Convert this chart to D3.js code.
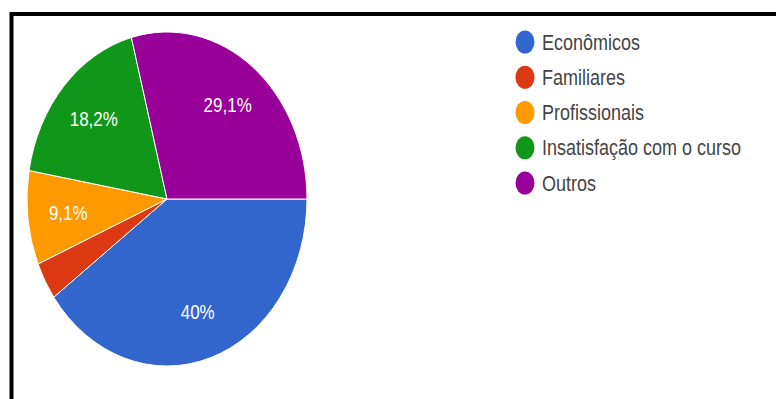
<!doctype html>
<html>
  <head>
    <meta charset="utf-8">
    <title>Motivos</title>
    <script src="https://cdnjs.cloudflare.com/ajax/libs/d3/7.8.5/d3.min.js"></script>
    <style>
      body { margin: 0; background: #fff; }
      text { font-family: "Liberation Sans", Arial, sans-serif; }
    </style>
  </head>
  <body>
    <div id="chart"></div>
    <script>
    // data: counts of answers (55 in total)
    let categories = ["Econômicos", "Familiares", "Profissionais", "Insatisfação com o curso", "Outros"];
    let counts = [22, 2, 5, 10, 16];
    let labels = ["40%", "", "9,1%", "18,2%", "29,1%"];
    let colors = ["#3366cc", "#dc3912", "#ff9900", "#109618", "#990099"];

    let width = 776, height = 399;
    let sy = 167 / 140; // the picture is stretched vertically

    let svg = d3.select("#chart").append("svg")
      .attr("width", width)
      .attr("height", height);

    // frame
    svg.append("rect")
      .attr("x", 11.5).attr("y", 14)
      .attr("width", 900).attr("height", 600)
      .style("fill", "none")
      .style("stroke", "#000")
      .style("stroke-width", 4);

    let r = 140, cx = 167, cy = 199;

    let pie = d3.pie().sort(null)
      .startAngle(Math.PI / 2)
      .endAngle(Math.PI / 2 + 2 * Math.PI);
    let arcs = pie(counts);

    let arc = d3.arc().innerRadius(0).outerRadius(r);
    let labelArc = d3.arc().innerRadius(r * 0.71).outerRadius(r * 0.71);

    let g = svg.append("g")
      .attr("transform", `translate(${cx},${cy}) scale(1,${sy})`);

    g.selectAll("path")
      .data(arcs)
      .join("path")
      .attr("d", arc)
      .style("fill", (d, i) => colors[i])
      .style("stroke", "#fff")
      .style("stroke-width", 1)
      .attr("vector-effect", "non-scaling-stroke");

    svg.selectAll("text.lbl")
      .data(arcs)
      .join("text")
      .attr("class", "lbl")
      .attr("transform", d => {
        let c = labelArc.centroid(d);
        return `translate(${cx + c[0]},${cy + c[1] * sy}) scale(1,${sy})`;
      })
      .attr("text-anchor", "middle")
      .attr("dy", "0.35em")
      .style("font-size", "17px")
      .style("fill", "#fff")
      .text((d, i) => labels[i]);

    // legend
    let ly = d3.scalePoint().domain(categories).range([42, 183]);

    let leg = svg.selectAll("g.leg")
      .data(categories)
      .join("g")
      .attr("class", "leg")
      .attr("transform", d => `translate(525,${ly(d)})`);

    leg.append("ellipse")
      .attr("rx", 9.5).attr("ry", 11.5)
      .style("fill", (d, i) => colors[i]);

    leg.append("text")
      .attr("transform", `translate(17,0) scale(1,${sy})`)
      .attr("dy", "0.35em")
      .style("font-size", "18px")
      .style("fill", "#444")
      .text(d => d);
    </script>
  </body>
</html>
